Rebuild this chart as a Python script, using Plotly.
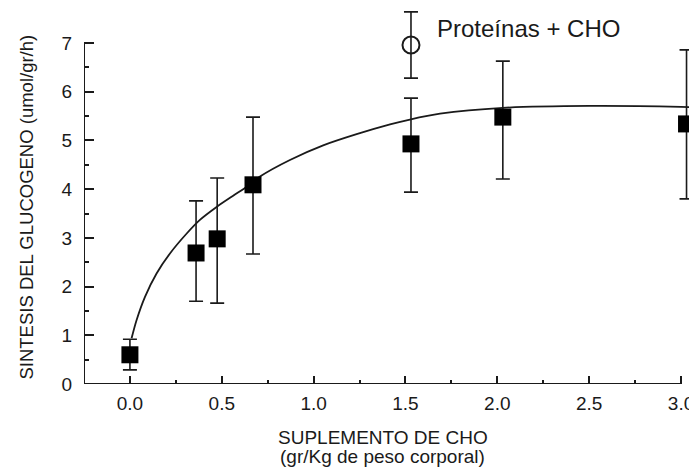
import plotly.graph_objects as go

# Data
cho_x = [0.0, 0.36, 0.475, 0.67, 1.53, 2.03, 3.03]
cho_y = [0.60, 2.69, 2.98, 4.09, 4.93, 5.48, 5.34]
cho_upper = [0.92, 3.76, 4.23, 5.48, 5.87, 6.63, 6.86]
cho_lower = [0.29, 1.70, 1.66, 2.67, 3.94, 4.21, 3.80]

prot_x = [1.53]
prot_y = [6.96]
prot_upper = [7.64]
prot_lower = [6.28]

fit_x = [0.009, 0.036, 0.082, 0.145, 0.218, 0.309, 0.381, 0.47, 0.56, 0.64, 0.708, 0.871,
         1.052, 1.234, 1.416, 1.524, 1.688, 2.03, 2.5, 3.0, 3.08]
fit_y = [0.94, 1.31, 1.79, 2.27, 2.68, 3.09, 3.37, 3.63, 3.86, 4.06, 4.26, 4.60,
         4.90, 5.13, 5.33, 5.43, 5.55, 5.67, 5.71, 5.69, 5.68]

x_ticks = [0.0, 0.5, 1.0, 1.5, 2.0, 2.5, 3.0]
x_tick_labels = ["0.0", "0.5", "1.0", "1.5", "2.0", "2.5", "3.0"]
y_ticks = [0, 1, 2, 3, 4, 5, 6, 7]

X_MIN, X_AXIS_END, X_MAX = -0.25, 3.0, 3.087
Y_MIN, Y_AXIS_END, Y_MAX = 0, 7, 7.72

FONT = "Liberation Sans, Arial, sans-serif"
INK = "#1a1a1a"

fig = go.Figure()

fig.add_trace(go.Scatter(
    x=fit_x, y=fit_y, mode="lines", line=dict(color=INK, width=1.8, shape="spline", smoothing=0.8),
    cliponaxis=False, hoverinfo="skip", showlegend=False,
))

fig.add_trace(go.Scatter(
    x=cho_x, y=cho_y, mode="markers",
    marker=dict(symbol="square", size=17, color="#000000"),
    error_y=dict(type="data", symmetric=False,
                 array=[u - v for u, v in zip(cho_upper, cho_y)],
                 arrayminus=[v - l for l, v in zip(cho_lower, cho_y)],
                 color=INK, thickness=1.6, width=7),
    cliponaxis=False, showlegend=False,
))

fig.add_trace(go.Scatter(
    x=prot_x, y=prot_y, mode="markers",
    marker=dict(symbol="circle-open", size=17, color=INK, line=dict(width=2, color=INK)),
    error_y=dict(type="data", symmetric=False,
                 array=[u - v for u, v in zip(prot_upper, prot_y)],
                 arrayminus=[v - l for l, v in zip(prot_lower, prot_y)],
                 color=INK, thickness=1.6, width=7),
    cliponaxis=False, showlegend=False,
))

# axis lines (end at the last tick, as in the reference)
fig.add_shape(type="line", xref="x", yref="y", x0=X_MIN, x1=X_MIN, y0=Y_MIN, y1=Y_AXIS_END,
              line=dict(color=INK, width=2))
fig.add_shape(type="line", xref="x", yref="y", x0=X_MIN, x1=X_AXIS_END, y0=Y_MIN, y1=Y_MIN,
              line=dict(color=INK, width=2))

fig.add_annotation(x=1.66, y=7.30, xref="x", yref="y", text="Proteínas + CHO",
                   showarrow=False, xanchor="left", yanchor="middle",
                   font=dict(family=FONT, size=24, color=INK))

title_x = 0.5 * (X_AXIS_END - X_MIN) / (X_MAX - X_MIN)
fig.add_annotation(x=title_x, y=0, xref="paper", yref="paper",
                   text="SUPLEMENTO DE CHO",
                   showarrow=False, xanchor="center", yanchor="middle", yshift=-53,
                   font=dict(family=FONT, size=19, color=INK))
fig.add_annotation(x=title_x, y=0, xref="paper", yref="paper",
                   text="(gr/Kg de peso corporal)",
                   showarrow=False, xanchor="center", yanchor="middle", yshift=-72,
                   font=dict(family=FONT, size=19, color=INK))

fig.add_annotation(x=0, y=0.5 * Y_AXIS_END / Y_MAX, xref="paper", yref="paper",
                   text="SINTESIS DEL GLUCOGENO (umol/gr/h)", textangle=-90,
                   showarrow=False, xanchor="center", yanchor="middle", xshift=-57, yshift=6,
                   font=dict(family=FONT, size=18.5, color=INK))

fig.update_layout(
    width=697, height=471,
    margin=dict(l=76, r=8, t=0, b=95, autoexpand=False),
    paper_bgcolor="white", plot_bgcolor="white",
    font=dict(family=FONT, size=17, color=INK),
    xaxis=dict(range=[X_MIN, X_MAX], tickvals=x_ticks, ticktext=x_tick_labels, automargin=False,
               showgrid=False, zeroline=False, showline=False,
               ticks="inside", ticklen=8, tickwidth=2, tickcolor=INK,
               minor=dict(ticks="inside", ticklen=4, tickwidth=2, tickcolor=INK,
                          tickvals=[0.25, 0.75, 1.25, 1.75, 2.25, 2.75]),
               tickfont=dict(size=19), ticklabelstandoff=6),
    yaxis=dict(range=[Y_MIN, Y_MAX], tickvals=y_ticks, automargin=False,
               showgrid=False, zeroline=False, showline=False,
               ticks="inside", ticklen=10, tickwidth=2, tickcolor=INK,
               minor=dict(ticks="inside", ticklen=5, tickwidth=2, tickcolor=INK,
                          tickvals=[0.5, 1.5, 2.5, 3.5, 4.5, 5.5, 6.5]),
               tickfont=dict(size=19), ticklabelstandoff=11),
)

fig.write_html("out.html")
